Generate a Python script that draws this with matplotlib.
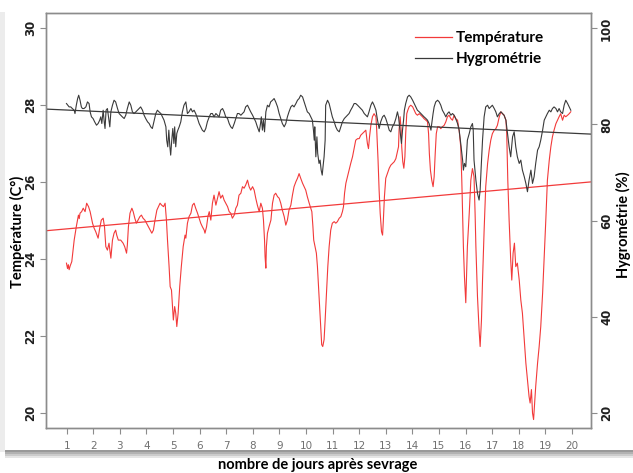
import matplotlib
matplotlib.use("Agg")
import matplotlib.pyplot as plt
from matplotlib.patches import Rectangle

# --- données ---
temp_days = [
    0.99, 1.03, 1.06, 1.09, 1.13, 1.19, 1.28, 1.36, 1.44, 1.47, 1.50, 1.56, 1.62, 1.69, 1.75, 1.82, 1.88,
    1.97, 2.03, 2.09, 2.18, 2.24, 2.30, 2.37, 2.42, 2.47, 2.53, 2.59, 2.66, 2.72, 2.78, 2.84, 2.88, 2.94,
    3.03, 3.12, 3.18, 3.25, 3.28, 3.32, 3.38, 3.45, 3.50, 3.56, 3.62, 3.68, 3.75, 3.81, 3.87, 3.94, 4.00,
    4.07, 4.14, 4.20, 4.26, 4.32, 4.39, 4.45, 4.51, 4.57, 4.64, 4.70, 4.75, 4.79, 4.85, 4.89, 4.94, 4.98,
    5.01, 5.06, 5.10, 5.14, 5.19, 5.25, 5.31, 5.38, 5.45,
    5.48, 5.54, 5.60, 5.67, 5.73, 5.79, 5.85, 5.92, 5.98, 6.04, 6.10, 6.17, 6.20, 6.26, 6.31, 6.36, 6.42,
    6.48, 6.54, 6.61, 6.67, 6.73, 6.79, 6.86, 6.92, 6.98, 7.05, 7.11, 7.17, 7.23, 7.30, 7.36, 7.42, 7.48,
    7.55, 7.61, 7.67, 7.73, 7.80, 7.86, 7.92, 7.99, 8.05, 8.11, 8.17, 8.24, 8.30, 8.36, 8.40, 8.44, 8.46,
    8.49, 8.51, 8.55, 8.61, 8.68, 8.74, 8.80, 8.86, 8.93, 8.99, 9.05, 9.11, 9.18, 9.24, 9.30, 9.36, 9.43,
    9.49, 9.55, 9.62, 9.68, 9.74, 9.80, 9.87, 9.93, 9.99, 10.05, 10.12, 10.18, 10.22, 10.26, 10.29, 10.34,
    10.39, 10.43, 10.47, 10.52, 10.56, 10.59, 10.63, 10.68, 10.72,
    10.78, 10.82, 10.87, 10.93, 10.99, 11.06, 11.12, 11.18, 11.25, 11.31, 11.37, 11.41, 11.45, 11.50,
    11.56, 11.62, 11.68, 11.75, 11.81, 11.87, 11.94, 12.00, 12.06, 12.12, 12.19, 12.25, 12.31, 12.35,
    12.39, 12.44, 12.50, 12.56, 12.63, 12.66, 12.71, 12.75, 12.79, 12.84, 12.88, 12.91, 12.95, 13.00,
    13.06, 13.13, 13.19, 13.25, 13.32, 13.38, 13.44, 13.48, 13.50, 13.54, 13.58, 13.60, 13.64, 13.68,
    13.72, 13.75, 13.79, 13.83, 13.88, 13.94, 14.01, 14.07, 14.13, 14.19, 14.26, 14.32, 14.38, 14.44,
    14.51, 14.57, 14.61, 14.64, 14.68, 14.73, 14.78, 14.82, 14.86, 14.90, 14.95, 15.01, 15.07, 15.13,
    15.20, 15.26, 15.32, 15.38, 15.45, 15.51, 15.57, 15.63, 15.70, 15.76, 15.82, 15.86, 15.89, 15.92,
    15.96, 16.00,
    16.01, 16.07, 16.14, 16.20, 16.26, 16.32, 16.36, 16.39, 16.45, 16.51, 16.55, 16.60, 16.64, 16.70,
    16.76, 16.83, 16.89, 16.95, 17.01, 17.08, 17.14, 17.20, 17.27, 17.33, 17.39, 17.45, 17.52, 17.55,
    17.59, 17.64, 17.70, 17.74, 17.79, 17.84, 17.89, 17.95, 18.02, 18.08, 18.14, 18.21, 18.27, 18.33,
    18.39, 18.43, 18.48, 18.52, 18.56, 18.61, 18.64, 18.71, 18.77, 18.83, 18.90, 18.96, 19.02, 19.08,
    19.15, 19.21, 19.27, 19.33, 19.40, 19.46, 19.52, 19.58, 19.65, 19.71, 19.77, 19.84, 19.90, 19.96,
]
temp_vals = [
    23.89, 23.75, 23.85, 23.72, 23.82, 23.93, 24.49, 24.84, 25.14, 25.05, 25.19, 25.23, 25.32, 25.23, 25.45, 25.36, 25.23,
    24.93, 24.80, 24.71, 24.54, 24.80, 25.01, 25.06, 24.84, 24.32, 24.23, 24.41, 24.02, 24.49, 24.67, 24.75, 24.62, 24.49,
    24.49, 24.41, 24.32, 24.15, 24.36, 24.84, 25.19, 25.32, 25.23, 25.06, 24.93, 25.01, 25.10, 25.14, 25.06, 25.01, 24.93,
    24.84, 24.75, 24.67, 24.75, 25.01, 25.27, 25.36, 25.45, 25.40, 25.36, 25.45, 25.01, 24.49, 23.80, 23.28, 23.19, 22.76,
    22.41, 22.76, 22.59, 22.24, 22.59, 23.28, 23.80, 24.32, 24.62,
    24.54, 24.93, 25.10, 25.19, 25.40, 25.45, 25.32, 25.19, 25.06, 24.93, 24.84, 24.75, 24.67, 24.84, 25.10, 25.23, 25.01,
    25.45, 25.66, 25.40, 25.58, 25.75, 25.58, 25.66, 25.53, 25.45, 25.36, 25.23, 25.19, 25.06, 25.14, 25.32, 25.40, 25.66,
    25.71, 25.88, 25.84, 25.92, 26.05, 25.88, 25.79, 25.88, 25.79, 25.58, 25.40, 25.23, 25.45, 25.32, 25.01, 24.49, 24.06,
    23.76, 24.32, 24.67, 24.84, 25.01, 25.45, 25.66, 25.71, 25.62, 25.58, 25.45, 25.27, 25.10, 24.88, 25.01, 25.27, 25.40,
    25.66, 25.88, 26.01, 26.10, 26.22, 26.10, 25.97, 25.88, 25.79, 25.62, 25.45, 25.32, 25.23, 24.84, 24.49, 24.32,
    24.15, 23.80, 23.28, 22.59, 22.16, 21.77, 21.72, 21.90, 22.41,
    23.28, 23.80, 24.32, 24.75, 24.93, 24.97, 24.93, 24.97, 25.06, 25.10, 25.23, 25.36, 25.71, 25.97,
    26.14, 26.31, 26.48, 26.66, 26.87, 27.09, 27.13, 27.13, 27.22, 27.26, 27.31, 27.35, 27.00, 26.87,
    27.18, 27.48, 27.70, 27.78, 27.70, 27.35, 26.57, 25.79, 25.19, 24.71, 24.62, 25.01, 25.62, 26.10,
    26.22, 26.36, 26.44, 26.48, 26.53, 26.61, 26.79, 26.92, 27.35, 27.70, 27.35, 26.92, 26.53, 26.36,
    26.66, 27.26, 27.78, 27.87, 27.96, 28.00, 27.96, 27.87, 27.78, 27.74, 27.78, 27.74, 27.70, 27.65,
    27.61, 27.57, 27.26, 26.74, 26.31, 26.05, 25.88, 26.14, 26.74, 27.26, 27.44, 27.44, 27.39, 27.44,
    27.48, 27.57, 27.70, 27.74, 27.65, 27.61, 27.74, 27.65, 27.61, 27.35, 26.92, 26.05, 25.19, 24.32,
    23.54, 23.02,
    22.86, 24.32, 25.19, 26.05, 26.35, 26.14, 25.19, 24.32, 23.02, 22.16, 21.72, 22.41, 23.45, 24.75,
    25.88, 26.48, 26.83, 27.09, 27.26, 27.35, 27.39, 27.48, 27.70, 27.83, 27.78, 27.74, 27.61, 27.26,
    26.05, 25.01, 23.97, 23.45, 24.15, 24.41, 23.80, 23.89, 23.45, 22.93, 22.59, 21.90, 21.29, 20.86,
    20.42, 20.25, 20.60, 19.99, 19.82, 20.34, 20.68, 21.29, 21.72, 22.24, 23.11, 24.06, 25.01, 26.05,
    26.57, 26.92, 27.18, 27.35, 27.52, 27.61, 27.70, 27.78, 27.61, 27.74, 27.70, 27.74, 27.78, 27.83,
]

hygro_days = [
    0.99, 1.04, 1.09, 1.15, 1.21, 1.28, 1.31, 1.36, 1.41, 1.45, 1.50, 1.55, 1.59, 1.65, 1.72, 1.78, 1.84,
    1.88, 1.93, 1.99, 2.05, 2.12, 2.18, 2.24, 2.28, 2.32, 2.37, 2.41, 2.44, 2.48, 2.53, 2.57, 2.62, 2.66,
    2.72, 2.78, 2.84, 2.91, 2.97, 3.03, 3.09, 3.16, 3.22, 3.28, 3.35, 3.41, 3.47, 3.53, 3.60, 3.66, 3.72,
    3.78, 3.85, 3.91, 3.97, 4.04, 4.10, 4.16, 4.22, 4.29, 4.35, 4.41, 4.47, 4.54, 4.60, 4.66, 4.73, 4.76,
    4.80, 4.84, 4.88, 4.91, 4.95, 4.99, 5.03, 5.06, 5.10, 5.14, 5.18, 5.23, 5.29, 5.35, 5.41,
    5.48, 5.54, 5.60, 5.67, 5.73, 5.79, 5.85, 5.92, 5.98, 6.04, 6.10, 6.17, 6.23, 6.29, 6.36, 6.42, 6.48,
    6.54, 6.61, 6.67, 6.73, 6.79, 6.86, 6.92, 6.98, 7.05, 7.11, 7.17, 7.23, 7.30, 7.36, 7.42, 7.48, 7.55,
    7.61, 7.67, 7.73, 7.80, 7.86, 7.92, 7.99, 8.05, 8.11, 8.17, 8.24, 8.29, 8.32, 8.36, 8.40, 8.44, 8.49,
    8.55, 8.61, 8.67, 8.74, 8.80, 8.86, 8.93, 8.99, 9.05, 9.11, 9.18, 9.24, 9.30, 9.36, 9.43, 9.49, 9.55,
    9.62, 9.68, 9.74, 9.80, 9.87, 9.93, 9.99, 10.05, 10.12, 10.18, 10.24, 10.28, 10.31, 10.33, 10.37,
    10.41, 10.44, 10.49, 10.53, 10.57, 10.61, 10.64, 10.68, 10.72,
    10.74, 10.81, 10.87, 10.93, 10.99, 11.06, 11.12, 11.18, 11.25, 11.31, 11.37, 11.44, 11.50, 11.56,
    11.62, 11.68, 11.75, 11.81, 11.87, 11.94, 12.00, 12.06, 12.12, 12.19, 12.25, 12.31, 12.37, 12.44,
    12.50, 12.56, 12.63, 12.69, 12.75, 12.81, 12.88, 12.94, 13.00, 13.06, 13.13, 13.19, 13.25, 13.32,
    13.38, 13.44, 13.48, 13.52, 13.55, 13.59, 13.63, 13.67, 13.70, 13.75, 13.82, 13.88, 13.94, 14.01,
    14.07, 14.13, 14.19, 14.26, 14.32, 14.38, 14.44, 14.51, 14.57, 14.63, 14.70, 14.73, 14.78, 14.82,
    14.88, 14.95, 15.01, 15.07, 15.13, 15.20, 15.26, 15.32, 15.38, 15.45, 15.51, 15.57, 15.63, 15.70,
    15.76, 15.82, 15.89, 15.92, 15.96, 16.01,
    16.07, 16.14, 16.20, 16.26, 16.29, 16.32, 16.39, 16.45, 16.51, 16.55, 16.59, 16.64, 16.70, 16.76,
    16.83, 16.89, 16.95, 17.01, 17.08, 17.14, 17.20, 17.27, 17.33, 17.39, 17.45, 17.52, 17.58, 17.64,
    17.70, 17.77, 17.83, 17.89, 17.95, 18.02, 18.08, 18.14, 18.21, 18.27, 18.33, 18.39, 18.46, 18.52,
    18.58, 18.64, 18.71, 18.77, 18.83, 18.90, 18.96, 19.02, 19.08, 19.15, 19.21, 19.27, 19.33, 19.40,
    19.46, 19.52, 19.58, 19.65, 19.71, 19.77, 19.84, 19.90, 19.96,
]
hygro_vals = [
    84.35, 84.00, 83.65, 83.65, 83.31, 82.96, 82.27, 84.00, 85.39, 86.08, 85.04, 83.65, 83.31, 83.31, 83.65, 84.69, 84.35,
    82.62, 81.58, 81.23, 80.54, 79.84, 80.19, 80.88, 81.58, 80.19, 82.96, 80.54, 79.15, 82.96, 83.31, 81.58, 79.50, 82.62,
    84.00, 85.04, 84.69, 83.31, 82.27, 81.92, 81.58, 81.23, 81.92, 83.31, 84.69, 84.00, 82.62, 82.27, 82.62, 82.96, 83.31,
    83.65, 82.96, 81.92, 81.23, 80.54, 80.19, 79.50, 79.15, 80.88, 82.27, 82.96, 82.62, 82.27, 81.58, 80.88, 79.50, 76.73,
    75.34, 78.81, 75.34, 73.61, 76.73, 79.15, 76.04, 79.50, 75.34, 78.11, 78.81, 79.50, 80.54, 82.62, 84.00,
    84.69, 82.27, 82.62, 83.31, 82.62, 82.96, 82.27, 81.23, 80.19, 79.50, 78.81, 78.46, 79.15, 80.54, 81.58, 82.27, 82.27,
    81.58, 82.27, 81.92, 81.58, 82.96, 83.31, 82.62, 81.58, 81.23, 80.19, 79.50, 79.15, 80.19, 81.23, 82.27, 82.27, 81.92,
    82.27, 82.62, 83.65, 84.00, 83.31, 82.62, 81.92, 81.23, 80.54, 79.50, 78.46, 80.19, 81.58, 78.81, 80.88, 78.46, 82.62,
    84.00, 83.65, 84.69, 85.04, 85.39, 84.69, 83.65, 82.27, 81.23, 80.19, 79.50, 80.19, 81.58, 82.62, 83.65, 84.00, 83.65,
    84.35, 85.04, 85.39, 86.08, 85.73, 84.69, 83.65, 82.62, 82.27, 81.58, 80.88, 78.81, 76.73, 79.50, 73.26,
    77.42, 73.96, 71.88, 72.57, 70.49, 69.45, 71.19, 73.26, 76.73,
    84.00, 85.04, 84.35, 82.96, 81.58, 80.54, 79.50, 78.81, 78.46, 79.50, 80.54, 81.23, 81.58, 81.92,
    82.27, 82.96, 83.65, 84.35, 84.35, 84.00, 83.65, 83.31, 82.96, 82.27, 81.92, 81.58, 82.62, 84.00,
    84.69, 84.00, 82.96, 80.88, 79.15, 80.54, 81.58, 81.92, 81.23, 80.19, 78.81, 78.46, 79.50, 80.19,
    81.23, 82.62, 81.58, 79.50, 78.11, 76.04, 78.81, 80.88, 82.96, 84.35, 85.73, 86.08, 85.73, 85.04,
    84.35, 83.65, 82.96, 82.62, 82.27, 81.92, 81.58, 81.23, 80.88, 80.19, 78.81, 80.19, 82.27, 83.65,
    84.69, 85.04, 84.69, 84.00, 82.96, 82.27, 81.58, 82.27, 82.62, 81.92, 82.27, 81.92, 81.23, 80.19,
    78.81, 76.04, 72.57, 70.49, 71.88, 71.19,
    76.73, 78.11, 79.50, 80.19, 78.81, 72.57, 68.42, 65.65, 64.26, 66.34, 71.19, 76.73, 81.58, 83.65,
    84.00, 83.31, 83.65, 84.00, 83.31, 82.62, 81.58, 82.27, 82.62, 82.27, 81.92, 80.88, 78.11, 75.34,
    73.26, 77.42, 78.46, 75.34, 73.26, 71.88, 72.57, 70.49, 69.11, 67.72, 65.99, 68.42, 70.49, 67.72,
    69.11, 71.88, 74.65, 75.34, 76.73, 78.81, 80.88, 81.58, 82.27, 82.96, 82.62, 83.31, 83.65, 83.31,
    82.62, 83.31, 82.62, 82.27, 84.00, 85.04, 84.35, 83.65, 82.96,
]

# droites de tendance (ordonnée à l'origine, pente)
temp_trend = [24.72, 0.062]
hygro_trend = [83.25, -0.254]

x_ticks = list(range(1, 21))
temp_ticks = [20, 22, 24, 26, 28, 30]
hygro_ticks = [20, 40, 60, 80, 100]

RED = "#f23a3a"
GREY = "#3a3a3a"
FRAME = "#8c8c8c"
BOLD_FONT = ["Lato", "DejaVu Sans"]

fig = plt.figure(figsize=(6.33, 4.73), dpi=100)
fig.patch.set_facecolor("white")

# cadre du panneau + ombre portée
H = 473.0
W = 633.0
for i, a in enumerate([0.6, 0.45, 0.3, 0.15]):
    fig.patches.append(Rectangle((5 / W, 1 - (452 + 2 * i) / H), 1, 2 / H, transform=fig.transFigure,
                                 facecolor="#555555", alpha=a, edgecolor="none", zorder=0))
fig.patches.append(Rectangle((0, 1 - 452 / H), 5 / W, 440 / H, transform=fig.transFigure,
                             facecolor="#ececec", edgecolor="none", zorder=0))

ax = fig.add_axes([46 / W, 1 - 428 / H, 545 / W, 415 / H])
ax2 = ax.twinx()

ax.plot(temp_days, temp_vals, color=RED, linewidth=0.8)
ax.axline((0, temp_trend[0]), slope=temp_trend[1], color=RED, linewidth=0.9)
ax2.plot(hygro_days, hygro_vals, color=GREY, linewidth=0.8)
ax2.axline((0, hygro_trend[0]), slope=hygro_trend[1], color=GREY, linewidth=0.9)

ax.set_xlim(0.22, 20.72)
ax.set_ylim(19.6, 30.4)
ax2.set_ylim(16.8, 103.2)

ax.set_xticks(x_ticks)
ax.set_yticks(temp_ticks)
ax2.set_yticks(hygro_ticks)

for a in (ax, ax2):
    for s in a.spines.values():
        s.set_color(FRAME)
        s.set_linewidth(1.0)
    a.tick_params(colors=FRAME, width=0.8, length=4)

ax.tick_params(axis="x", labelcolor="#707070", labelsize=7.5, pad=5)
ax.tick_params(axis="y", labelcolor="#202020", labelsize=8.5, labelrotation=90, pad=2.5)
ax2.tick_params(axis="y", labelcolor="#202020", labelsize=8.5, labelrotation=90, pad=2.5)
for lbl in ax.get_yticklabels() + ax2.get_yticklabels():
    lbl.set_fontweight("bold")
    lbl.set_va("center")

ax.set_ylabel("Température (C°)", family=BOLD_FONT, fontweight="bold", fontsize=10.5)
ax2.set_ylabel("Hygrométrie (%)", family=BOLD_FONT, fontweight="bold", fontsize=10.5)
ax.yaxis.set_label_coords(-0.039, 0.472)
ax2.yaxis.set_label_coords(1.046, 0.49)

fig.text(318 / W, 1 - 465 / H, "nombre de jours après sevrage", family=BOLD_FONT,
         fontweight="bold", fontsize=10.5, ha="center", va="center")

# légende
ax.plot([], [], color=RED, linewidth=0.9, label="Température")
ax.plot([], [], color=GREY, linewidth=0.9, label="Hygrométrie")
h, l = ax.get_legend_handles_labels()
leg = ax.legend(h[-2:], l[-2:], loc="upper left", bbox_to_anchor=(0.663, 0.975), frameon=False,
                borderpad=0, handlelength=2.4, handletextpad=0.3, labelspacing=0.45,
                prop={"family": BOLD_FONT, "weight": "bold", "size": 11})

fig.savefig("out.png", dpi=100)
